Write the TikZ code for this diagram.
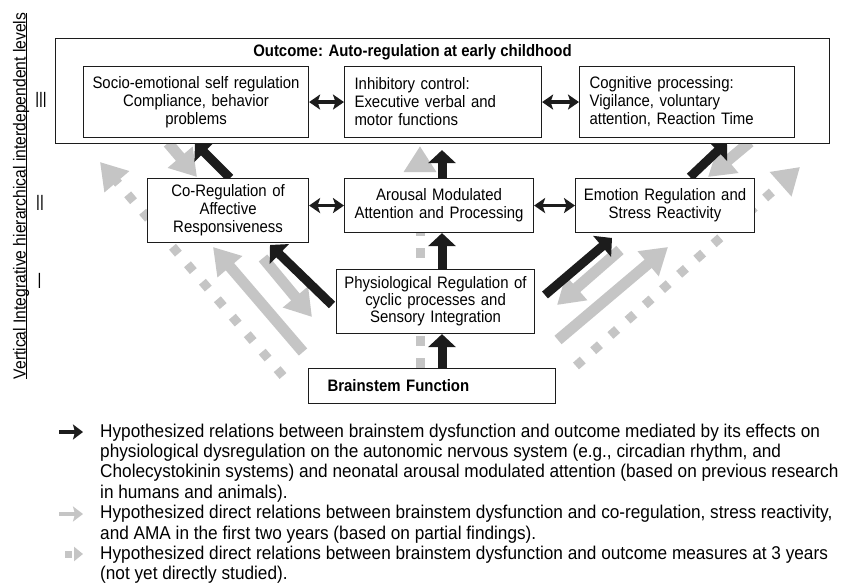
\documentclass[tikz,border=0pt]{standalone}
\usepackage{graphicx}
\usepackage{fontspec}
\setmainfont{Liberation Sans}
\newfontfamily\boxf[FakeStretch=0.9]{Liberation Sans}
\newfontfamily\legf[FakeStretch=0.93]{Liberation Sans}
\usetikzlibrary{arrows.meta,backgrounds}
\definecolor{lg}{RGB}{197,197,197}
\definecolor{dk}{RGB}{28,28,28}
\newcommand\myul[1]{\setbox0\hbox{#1}\rlap{\rule[-1.6pt]{\wd0}{0.8pt}}\box0}
\begin{document}
\begin{tikzpicture}[x=1pt,y=-1pt,
  box/.style={draw=dk,line width=1.1pt,fill=white,inner ysep=0pt,anchor=north west,
    font=\boxf\fontsize{16.6}{18}\selectfont},
  blk/.style={dk,line width=9pt,-{Triangle[length=13pt,width=27pt]}},
  gry/.style={lg,line width=11pt,-{Triangle[length=26pt,width=31pt]}},
  gdot/.style={lg,line width=9pt,dash pattern=on 9pt off 14pt,-{Triangle[length=26pt,width=31pt]}},
  dbl/.style={dk,line width=3.5pt,{Stealth[length=11pt,width=15pt,inset=2.5pt]}-{Stealth[length=11pt,width=15pt,inset=2.5pt]}},
  leg/.style={anchor=north west,inner sep=0pt,align=left,font=\legf\fontsize{18.5}{20.4}\selectfont},
  roman/.style={inner sep=0pt,font=\fontsize{22}{22}\selectfont}
]
\useasboundingbox (0,0) rectangle (841,585);

% boxes
\node[box,minimum width=774pt,minimum height=105pt] (O) at (55,38) {};
\node[inner sep=0pt,font=\boxf\fontsize{16.6}{18}\selectfont\bfseries] (title) at (412.5,52) {Outcome: Auto-regulation at early childhood};
\node[box,minimum width=225pt,minimum height=71pt,text width=221pt,inner xsep=2pt,align=center] (A) at (83,66)
  {Socio-emotional self regulation\\Compliance, behavior\\problems};
\node[box,minimum width=197pt,minimum height=71pt,text width=177pt,inner xsep=10pt,align=left] (B) at (344,66)
  {Inhibitory control:\\Executive verbal and\\motor functions};
\node[box,minimum width=215pt,minimum height=71pt,text width=195pt,inner xsep=10pt,align=left] (C) at (579,66)
  {Cognitive processing:\\Vigilance, voluntary\\attention, Reaction Time};
\node[box,minimum width=161pt,minimum height=64pt,text width=155pt,inner xsep=3pt,align=center] (D) at (147,178)
  {Co-Regulation of\\Affective\\Responsiveness};
\node[box,minimum width=189pt,minimum height=54pt,text width=181pt,inner xsep=4pt,align=center] (E) at (344,178)
  {Arousal Modulated\\Attention and Processing};
\node[box,minimum width=179pt,minimum height=54pt,text width=171pt,inner xsep=4pt,align=center] (F) at (575,178)
  {Emotion Regulation and\\Stress Reactivity};
\node[box,minimum width=198pt,minimum height=64pt,text width=190pt,inner xsep=4pt,align=center,
  font=\boxf\fontsize{16.6}{17}\selectfont] (G) at (336,269)
  {Physiological Regulation of\\cyclic processes and\\Sensory Integration};
\node[box,minimum width=247pt,minimum height=35pt,text width=209pt,inner xsep=19pt,align=left,
  font=\boxf\fontsize{16.6}{18}\selectfont\bfseries] (H) at (308,368)
  {Brainstem Function};

% side label and levels
\node[rotate=90,anchor=base,inner sep=0pt,font=\boxf\fontsize{17.4}{20}\selectfont] (lab) at (25.5,196)
  {\myul{Vertical Integrative hierarchical interdependent levels}};
\node[roman] (r3) at (41,99.5) {\scalebox{0.62}[1]{III}};
\node[roman] (r2) at (40,203) {\scalebox{0.62}[1]{II}};
\node[roman] (r1) at (39.5,281) {\scalebox{0.62}[1]{I}};

% double arrows
\draw[dbl] (A.east) -- (B.west);
\draw[dbl] (B.east) -- (C.west);
\draw[dbl] (D.east |- E.west) -- (E.west);
\draw[dbl] (E.east) -- (F.west);

% connector coordinates
\coordinate (cx) at (442,0);
\coordinate (cg) at (420,0);
\coordinate (k1) at (332,305); \coordinate (k2) at (270,245);
\coordinate (k3) at (230,178); \coordinate (k4) at (195,143);
\coordinate (k5) at (545,295); \coordinate (k6) at (612,238);
\coordinate (k7) at (690,177); \coordinate (k8) at (727,142);
\coordinate (g1) at (168,143); \coordinate (g2) at (197,177);
\coordinate (g3) at (263,258); \coordinate (g4) at (312,317);
\coordinate (g5) at (303,352); \coordinate (g6) at (213,247);
\coordinate (g7) at (750,142); \coordinate (g8) at (708,177);
\coordinate (g9) at (620,250); \coordinate (g10) at (557,305);
\coordinate (g11) at (558,340); \coordinate (g12) at (668,247);
\coordinate (d1) at (283,376); \coordinate (d2) at (100,162);
\coordinate (d3) at (576,366); \coordinate (d4) at (800,167);

\begin{scope}[on background layer]
  \fill[white] (0,0) rectangle (841,585);
  % grey dotted: brainstem -> outcome
  \draw[gdot] (d1) -- (d2);
  \draw[gdot] (d3) -- (d4);
  \draw[gdot,dash pattern=on 10pt off 12pt,shorten >=2pt] (H.north -| cg) -- (O.south -| cg);
  % grey solid
  \draw[gry] (g1) -- (g2);
  \draw[gry] (g3) -- (g4);
  \draw[gry] (g5) -- (g6);
  \draw[gry] (g7) -- (g8);
  \draw[gry] (g9) -- (g10);
  \draw[gry] (g11) -- (g12);
  % black mediated path
  \draw[blk] (H.north -| cx) -- (G.south -| cx);
  \draw[blk] (G.north -| cx) -- (E.south -| cx);
  \draw[blk,shorten >=6pt] (E.north -| cx) -- (O.south -| cx);
  \draw[blk] (k1) -- (k2);
  \draw[blk] (k3) -- (k4);
  \draw[blk] (k5) -- (k6);
  \draw[blk] (k7) -- (k8);
\end{scope}

% legend
\coordinate (la1) at (59,432); \coordinate (lb1) at (83,432);
\coordinate (la2) at (59,514); \coordinate (lb2) at (83,514);
\coordinate (la3) at (65,554); \coordinate (lb3) at (83,554);
\draw[dk,line width=4.5pt,-{Stealth[length=10pt,width=15pt,inset=2pt]}] (la1) -- (lb1);
\draw[lg,line width=4.5pt,-{Stealth[length=10pt,width=15pt,inset=2pt]}] (la2) -- (lb2);
\draw[lg,line width=7pt,dash pattern=on 7pt off 2pt,-{Triangle[length=9pt,width=14pt]}] (la3) -- (lb3);
\node[leg] (L1) at (100,423.5)
  {Hypothesized relations between brainstem dysfunction and outcome mediated by its effects on\\
   physiological dysregulation on the autonomic nervous system (e.g., circadian rhythm, and\\
   Cholecystokinin systems) and neonatal arousal modulated attention (based on previous research\\
   in humans and animals).};
\node[leg] (L2) at (100,505.1)
  {Hypothesized direct relations between brainstem dysfunction and co-regulation, stress reactivity,\\
   and AMA in the first two years (based on partial findings).};
\node[leg] (L3) at (100,545.9)
  {Hypothesized direct relations between brainstem dysfunction and outcome measures at 3 years\\
   (not yet directly studied).};
\end{tikzpicture}
\end{document}
